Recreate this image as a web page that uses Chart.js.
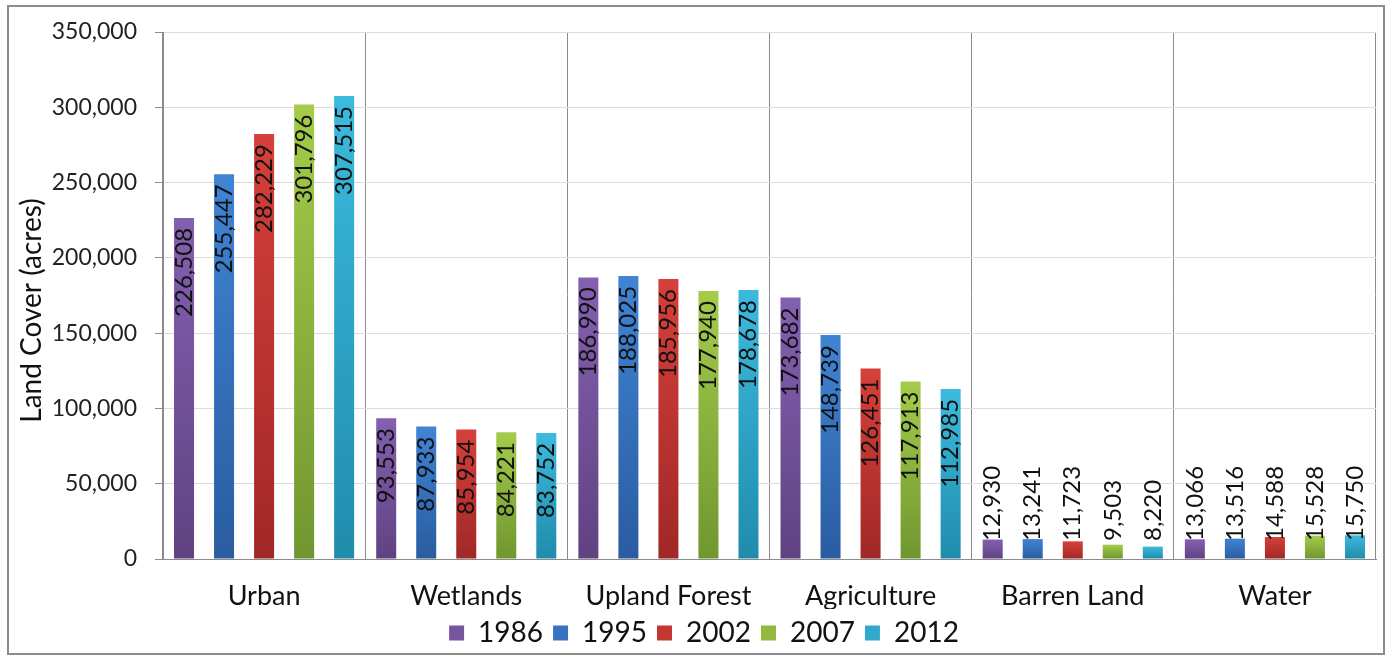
<!DOCTYPE html>
<html>
<head>
<meta charset="utf-8">
<script src="https://cdn.jsdelivr.net/npm/chart.js@4.4.1/dist/chart.umd.min.js"></script>
<style>
  html, body { margin: 0; padding: 0; background: #fff; }
  #wrap { width: 1389px; height: 657px; }
</style>
</head>
<body>
<div id="wrap"><canvas id="chart" width="1389" height="657"></canvas></div>
<script>
const categories = ['Urban', 'Wetlands', 'Upland Forest', 'Agriculture', 'Barren Land', 'Water']
const years = ['1986', '1995', '2002', '2007', '2012']
const v1986 = [226508, 93553, 186990, 173682, 12930, 13066]
const v1995 = [255447, 87933, 188025, 148739, 13241, 13516]
const v2002 = [282229, 85954, 185956, 126451, 11723, 14588]
const v2007 = [301796, 84221, 177940, 117913, 9503, 15528]
const v2012 = [307515, 83752, 178678, 112985, 8220, 15750]
const yTicks = [0, 50000, 100000, 150000, 200000, 250000, 300000, 350000]
const tituloY = 'Land Cover (acres)'

// top colour, bottom colour, legend colour
const colores = [
    ['rgb(132, 96, 176)', 'rgb(96, 66, 130)', 'rgb(118, 84, 160)'],
    ['rgb(64, 132, 212)', 'rgb(42, 92, 160)', 'rgb(56, 114, 192)'],
    ['rgb(214, 64, 58)', 'rgb(160, 40, 38)', 'rgb(196, 54, 50)'],
    ['rgb(164, 204, 74)', 'rgb(112, 150, 48)', 'rgb(146, 184, 62)'],
    ['rgb(60, 186, 222)', 'rgb(32, 140, 172)', 'rgb(50, 168, 204)']
]

const fuente = 'Lato, "Open Sans", sans-serif'
const series = [v1986, v1995, v2002, v2007, v2012]

function degradado(i) {
    return function (ctx) {
        const chart = ctx.chart
        if (ctx.type !== 'data' || !chart.chartArea) return colores[i][2]
        const y = chart.scales.y
        const top = y.getPixelForValue(ctx.raw)
        const base = y.getPixelForValue(0)
        const g = chart.ctx.createLinearGradient(0, top, 0, Math.max(base, top + 1))
        g.addColorStop(0, colores[i][0])
        g.addColorStop(1, colores[i][1])
        return g
    }
}

const formato = v => v.toLocaleString('en-US')

//etiquetas rotadas en cada barra
const etiquetas = {
    id: 'etiquetas',
    afterDatasetsDraw(chart) {
        const c = chart.ctx
        const base = chart.scales.y.getPixelForValue(0)
        c.save()
        c.font = '24px ' + fuente
        c.fillStyle = '#111'
        c.textBaseline = 'middle'
        chart.data.datasets.forEach((ds, i) => {
            chart.getDatasetMeta(i).data.forEach((bar, j) => {
                const texto = formato(ds.data[j])
                const w = c.measureText(texto).width
                c.save()
                if (base - bar.y >= w + 14) {
                    c.translate(bar.x, bar.y + 10)
                    c.rotate(-Math.PI / 2)
                    c.textAlign = 'right'
                } else {
                    c.translate(bar.x, base - 18)
                    c.rotate(-Math.PI / 2)
                    c.textAlign = 'left'
                }
                c.fillText(texto, 0, 0)
                c.restore()
            })
        })
        c.restore()
    }
}

//marco exterior, titulo del eje y y leyenda un poco a la derecha
const marco = {
    id: 'marco',
    afterLayout(chart) {
        chart.legend.left += 14
        chart.legend.right += 14
    },
    afterDraw(chart) {
        const c = chart.ctx
        const area = chart.chartArea
        c.save()
        c.strokeStyle = '#8c8c8c'
        c.lineWidth = 2
        c.strokeRect(8, 6, 1376, 648)
        c.translate(area.left - 131, (area.top + area.bottom) / 2 + 15)
        c.rotate(-Math.PI / 2)
        c.font = '28px ' + fuente
        c.fillStyle = '#111'
        c.textAlign = 'center'
        c.textBaseline = 'middle'
        c.fillText(tituloY, 0, 0)
        c.restore()
    }
}

new Chart(document.getElementById('chart'), {
    type: 'bar',
    data: {
        labels: categories,
        datasets: series.map((valores, i) => ({
            label: years[i],
            data: valores,
            backgroundColor: degradado(i),
            categoryPercentage: 0.99,
            barPercentage: 0.5
        }))
    },
    options: {
        responsive: false,
        animation: false,
        layout: { padding: { left: 4, right: 13, top: 32, bottom: 0 } },
        scales: {
            x: {
                grid: { color: '#8c8c8c', drawTicks: false },
                border: { color: '#8c8c8c' },
                ticks: { color: '#111', padding: 21, font: { family: fuente, size: 27 } },
                afterFit: axis => { axis.height = 50 }
            },
            y: {
                min: 0,
                max: 350000,
                afterBuildTicks: axis => { axis.ticks = yTicks.map(v => ({ value: v })) },
                afterFit: axis => { axis.width = 159 },
                grid: { color: '#dcdcdc', tickColor: '#8c8c8c', tickLength: 8 },
                border: { color: '#8c8c8c' },
                ticks: { color: '#222', padding: 18, font: { family: fuente, size: 23 }, callback: v => formato(v) }
            }
        },
        plugins: {
            legend: {
                position: 'bottom',
                labels: {
                    color: '#111',
                    font: { family: fuente, size: 28 },
                    boxWidth: 15,
                    boxHeight: 15,
                    padding: 10,
                    generateLabels: chart => Chart.defaults.plugins.legend.labels.generateLabels(chart).map((l, i) => {
                        l.fillStyle = colores[i][2]
                        l.strokeStyle = colores[i][2]
                        l.lineWidth = 0
                        return l
                    })
                }
            },
            tooltip: { enabled: false }
        }
    },
    plugins: [etiquetas, marco]
})
</script>
</body>
</html>
